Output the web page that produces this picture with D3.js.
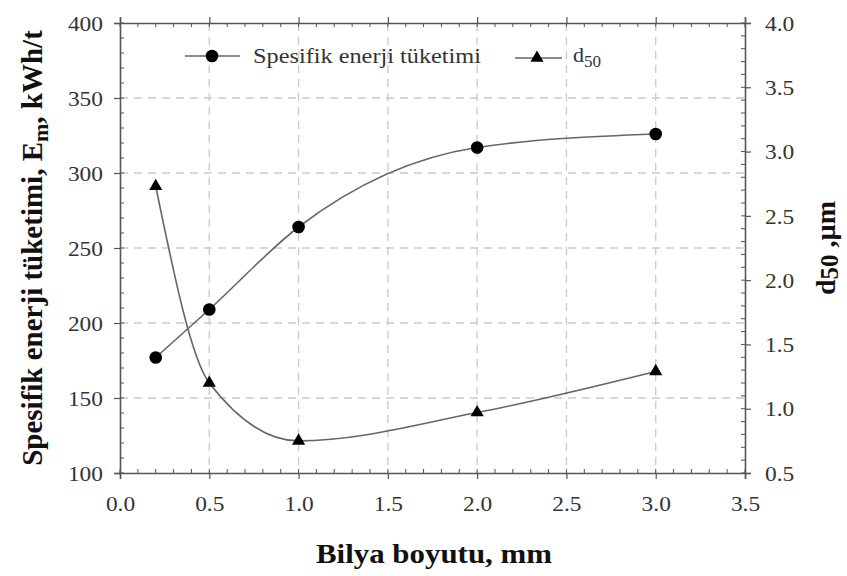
<!DOCTYPE html>
<html><head><meta charset="utf-8">
<script src="https://cdn.jsdelivr.net/npm/d3@7"></script>
<style>body{margin:0;background:#fff}svg{display:block}</style>
</head><body><div id="chart"></div>
<script>
const ballSize = [0.2, 0.5, 1.0, 2.0, 3.0];
const energy = [177, 209, 264, 317, 326];
const d50 = [2.73, 1.20, 0.75, 0.97, 1.29];
const xTicks = [0.0, 0.5, 1.0, 1.5, 2.0, 2.5, 3.0, 3.5];
const yLeftTicks = [100, 150, 200, 250, 300, 350, 400];
const yRightTicks = [0.5, 1.0, 1.5, 2.0, 2.5, 3.0, 3.5, 4.0];
const seriesNames = ["Spesifik enerji tüketimi", "d50"];

const W = 847, H = 576;
const m = {l: 120, r: 745, t: 23, b: 473};
const SX = 1.17;
const svg = d3.select("#chart").append("svg").attr("width", W).attr("height", H);
const font = "'Liberation Serif','Times New Roman',serif";

const x = d3.scaleLinear().domain([0, 3.5]).range([m.l, m.r]);
const yL = d3.scaleLinear().domain([100, 400]).range([m.b, m.t]);
const yR = d3.scaleLinear().domain([0.5, 4.0]).range([m.b, m.t]);

const gridC = "#cacaca", axisC = "#555";
// grid
svg.append("g").selectAll("line").data(xTicks.filter(t => t > 0 && t < 3.5)).join("line")
  .attr("x1", d => x(d)).attr("x2", d => x(d)).attr("y1", m.t).attr("y2", m.b)
  .attr("stroke", gridC).attr("stroke-width", 1.3).attr("stroke-dasharray", "8,6");
svg.append("g").selectAll("line").data(yLeftTicks.filter(t => t > 100 && t < 400)).join("line")
  .attr("x1", m.l).attr("x2", m.r).attr("y1", d => yL(d)).attr("y2", d => yL(d))
  .attr("stroke", gridC).attr("stroke-width", 1.3).attr("stroke-dasharray", "8,6");

// minor ticks
function range(a, b, s) { const r = []; for (let v = a; v <= b + 1e-9; v += s) r.push(+v.toFixed(4)); return r; }
const g = svg.append("g").attr("stroke", axisC).attr("stroke-width", 1);
range(0, 3.5, 0.1).forEach(v => {
  g.append("line").attr("x1", x(v)).attr("x2", x(v)).attr("y1", m.b).attr("y2", m.b - 4);
  g.append("line").attr("x1", x(v)).attr("x2", x(v)).attr("y1", m.t).attr("y2", m.t + 4);
});
range(100, 400, 10).forEach(v => {
  g.append("line").attr("x1", m.l).attr("x2", m.l + 4).attr("y1", yL(v)).attr("y2", yL(v));
});
range(0.5, 4.0, 0.1).forEach(v => {
  g.append("line").attr("x1", m.r).attr("x2", m.r - 4).attr("y1", yR(v)).attr("y2", yR(v));
});

// axes
const axB = svg.append("g").attr("transform", `translate(0,${m.b})`)
  .call(d3.axisBottom(x).tickValues(xTicks).tickFormat(d3.format(".1f")).tickSize(6).tickPadding(18));
const axT = svg.append("g").attr("transform", `translate(0,${m.t})`)
  .call(d3.axisTop(x).tickValues(xTicks).tickFormat("").tickSize(6));
const axL = svg.append("g").attr("transform", `translate(${m.l},0)`)
  .call(d3.axisLeft(yL).tickValues(yLeftTicks).tickFormat(d3.format("d")).tickSize(6));
const axR = svg.append("g").attr("transform", `translate(${m.r},0)`)
  .call(d3.axisRight(yR).tickValues(yRightTicks).tickFormat(d3.format(".1f")).tickSize(6));
[axB, axT, axL, axR].forEach(a => {
  a.select(".domain").attr("stroke", axisC).attr("stroke-width", 1.6);
  a.selectAll(".tick line").attr("stroke", axisC).attr("stroke-width", 1.2);
  a.selectAll("text").attr("font-family", font).attr("font-size", 20).attr("fill", "#333")
    .attr("transform", `scale(${SX},1)`);
});
axL.selectAll("text").attr("x", -17 / SX).attr("dy", "0.36em");
axR.selectAll("text").attr("x", 20 / SX).attr("dy", "0.36em");

// curves
const lineC = "#666";
const lineE = d3.line().x((d, i) => x(ballSize[i])).y(d => yL(d)).curve(d3.curveMonotoneX);
const lineD = d3.line().x((d, i) => x(ballSize[i])).y(d => yR(d)).curve(d3.curveMonotoneX);
svg.append("path").attr("d", lineE(energy)).attr("fill", "none").attr("stroke", lineC).attr("stroke-width", 1.6);
svg.append("path").attr("d", lineD(d50)).attr("fill", "none").attr("stroke", lineC).attr("stroke-width", 1.6);

const circ = d3.symbol().type(d3.symbolCircle).size(125);
const tri = d3.symbol().type(d3.symbolTriangle).size(75);
svg.append("g").selectAll("path").data(energy).join("path")
  .attr("transform", (d, i) => `translate(${x(ballSize[i])},${yL(d)})`).attr("d", circ).attr("fill", "#000");
svg.append("g").selectAll("path").data(d50).join("path")
  .attr("transform", (d, i) => `translate(${x(ballSize[i])},${yR(d)})`).attr("d", tri).attr("fill", "#000");

// legend
const lg = svg.append("g");
lg.append("line").attr("x1", 185).attr("x2", 240).attr("y1", 56).attr("y2", 56).attr("stroke", lineC).attr("stroke-width", 1.6);
lg.append("path").attr("transform", "translate(212,56)").attr("d", circ).attr("fill", "#000");
lg.append("text").attr("x", 253).attr("y", 63).attr("font-family", font).attr("font-size", 22).attr("fill", "#333")
  .attr("textLength", 228).attr("lengthAdjust", "spacingAndGlyphs").text(seriesNames[0]);
lg.append("line").attr("x1", 515).attr("x2", 562).attr("y1", 58).attr("y2", 58).attr("stroke", lineC).attr("stroke-width", 1.6);
lg.append("path").attr("transform", "translate(537,58)").attr("d", tri).attr("fill", "#000");
const t2 = lg.append("text").attr("x", 573).attr("y", 62).attr("font-family", font).attr("font-size", 22).attr("fill", "#333");
t2.append("tspan").text("d");
t2.append("tspan").attr("font-size", 17).attr("dy", 5).text("50");

// axis titles
svg.append("text").attr("x", 434).attr("y", 563).attr("text-anchor", "middle")
  .attr("font-family", font).attr("font-weight", "bold").attr("font-size", 27).attr("fill", "#111")
  .attr("textLength", 236).attr("lengthAdjust", "spacingAndGlyphs")
  .text("Bilya boyutu, mm");
const tl = svg.append("text").attr("transform", "translate(42,248) rotate(-90)").attr("text-anchor", "middle")
  .attr("font-family", font).attr("font-weight", "bold").attr("font-size", 29).attr("fill", "#111");
tl.append("tspan").text("Spesifik enerji tüketimi, E");
tl.append("tspan").attr("font-size", 22).attr("dy", 6).text("m");
tl.append("tspan").attr("dy", -6).text(", kWh/t");
const tr = svg.append("text").attr("transform", "translate(835,248) rotate(-90)").attr("text-anchor", "middle")
  .attr("font-family", font).attr("font-weight", "bold").attr("font-size", 28).attr("fill", "#111");
tr.append("tspan").text("d");
tr.append("tspan").attr("font-size", 25).attr("dy", 3).text("50");
tr.append("tspan").attr("dy", -3).text(" ,µm");
</script></body></html>
